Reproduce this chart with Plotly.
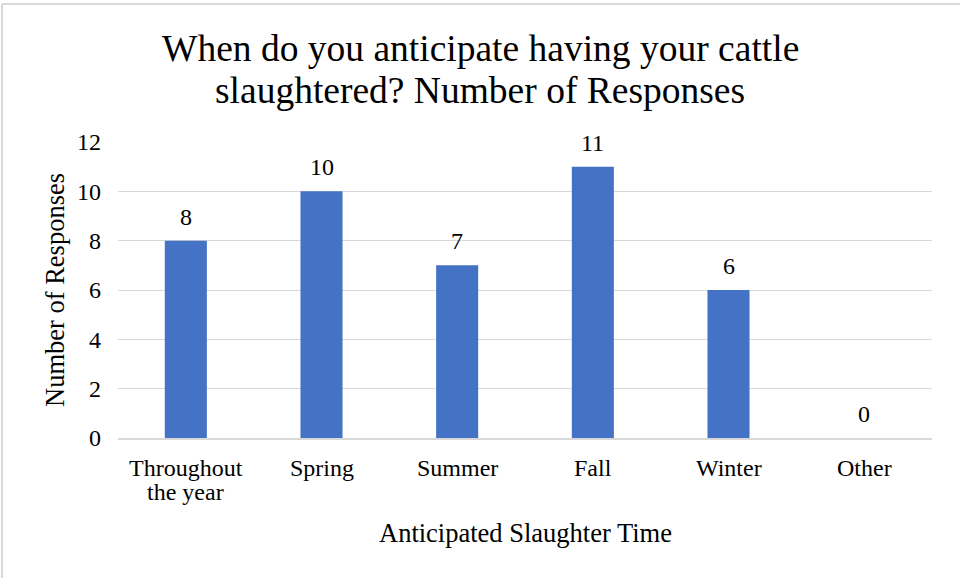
import plotly.graph_objects as go

categories = ["Throughout<br>the year", "Spring", "Summer", "Fall", "Winter", "Other"]
responses = [8, 10, 7, 11, 6, 0]
y_ticks = [0, 2, 4, 6, 8, 10, 12]
title_lines = ["When do you anticipate having your cattle", "slaughtered? Number of Responses"]
x_title = "Anticipated Slaughter Time"
y_title = "Number of Responses"

FONT = "Liberation Serif"
BLACK = "#000000"
PLOT_H = 296  # plot-area height in px (for paper offsets)

fig = go.Figure(go.Bar(
    x=categories, y=responses,
    marker=dict(color="#4472C4", line=dict(width=0)),
    width=0.31,
    hoverinfo="y",
))

# value labels above bars
for c, v in zip(categories, responses):
    fig.add_annotation(x=c, y=v, text=str(v), showarrow=False,
                       yanchor="middle", yshift=24,
                       font=dict(family=FONT, size=24, color=BLACK))

# category labels (tight line spacing, one annotation per line)
for c in categories:
    for i, line in enumerate(c.split("<br>")):
        fig.add_annotation(x=c, xref="x", yref="paper", y=-(30 + 24 * i) / PLOT_H,
                           text=line, showarrow=False,
                           xanchor="center", yanchor="middle",
                           font=dict(family=FONT, size=24, color=BLACK))

# title lines
for line, ypos in zip(title_lines, [1 + 94 / PLOT_H, 1 + 51 / PLOT_H]):
    fig.add_annotation(xref="paper", yref="paper", x=0.445, y=ypos,
                       xanchor="center", yanchor="middle", showarrow=False,
                       text=line, font=dict(family=FONT, size=37.5, color=BLACK))

# axis titles
fig.add_annotation(xref="paper", yref="paper", x=0.5, y=-(95) / PLOT_H,
                   xanchor="center", yanchor="middle", showarrow=False,
                   text=x_title, font=dict(family=FONT, size=26.5, color=BLACK))
fig.add_annotation(xref="paper", yref="paper", x=-(118 - 55) / 814, y=0.5,
                   xanchor="center", yanchor="middle", showarrow=False, textangle=-90,
                   text=y_title, font=dict(family=FONT, size=26.5, color=BLACK))

fig.update_layout(
    width=960, height=578,
    margin=dict(l=118, r=28, t=142, b=140),
    paper_bgcolor="white", plot_bgcolor="white",
    font=dict(family=FONT, color=BLACK),
    showlegend=False,
)
fig.update_xaxes(
    showticklabels=False,
    showline=True, linecolor="#D9D9D9", linewidth=1.5,
    ticks="", showgrid=False,
)
fig.update_yaxes(
    range=[0, 12], tickvals=y_ticks,
    tickfont=dict(family=FONT, size=24),
    showgrid=True, gridcolor="#D9D9D9", gridwidth=1,
    zeroline=False, ticks="", ticklabelstandoff=16,
)
# chart border (left and top edges visible)
fig.add_shape(type="line", xref="paper", yref="paper",
              x0=-116/814, x1=1+28/814, y0=1+138/PLOT_H, y1=1+138/PLOT_H,
              line=dict(color="#D9D9D9", width=2))
fig.add_shape(type="line", xref="paper", yref="paper",
              x0=-116/814, x1=-116/814, y0=1+138/PLOT_H, y1=-140/PLOT_H,
              line=dict(color="#D9D9D9", width=2))

fig.write_html("out.html", config={"displayModeBar": False},
               post_script="document.body.style.margin='0';")
